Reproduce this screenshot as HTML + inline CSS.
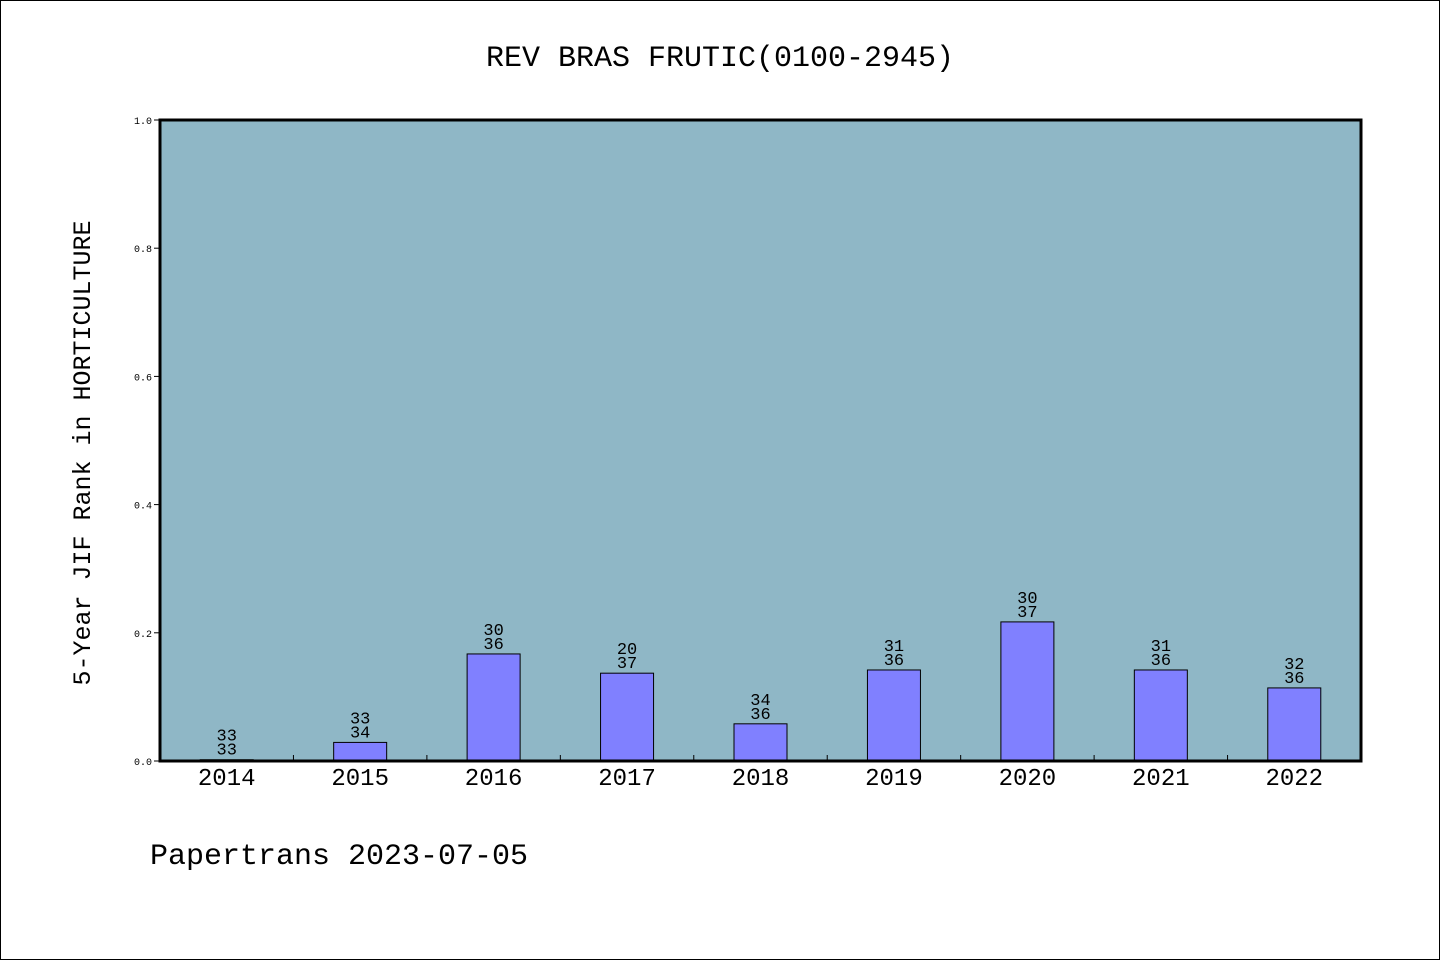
<!DOCTYPE html>
<html><head><meta charset="utf-8"><style>
html,body{margin:0;padding:0;background:#fff;}
body{width:1440px;height:960px;position:relative;overflow:hidden;}
svg text{font-family:"Liberation Mono","DejaVu Sans Mono",monospace;fill:#000;}
</style></head><body>
<svg id="chart" width="1440" height="960" xmlns="http://www.w3.org/2000/svg">
<rect x="0.5" y="0.5" width="1439" height="959" fill="#fff" stroke="#000" stroke-width="1"/>
<text x="720" y="66" font-size="30" text-anchor="middle">REV BRAS FRUTIC(0100-2945)</text>
<rect x="160" y="120" width="1201" height="641" fill="#8fb7c6"/>
<g id="yaxis"></g>
<g id="xaxis"></g>
<g id="bars"></g>
<rect x="160" y="120" width="1201" height="641" fill="none" stroke="#000" stroke-width="3"/>
<text transform="translate(90,453) rotate(-90)" font-size="25" text-anchor="middle">5-Year JIF Rank in HORTICULTURE</text>
<text x="150" y="864" font-size="30">Papertrans 2023-07-05</text>
</svg>
<script>
const categories = ["2014","2015","2016","2017","2018","2019","2020","2021","2022"];
const values = [0.002, 0.029, 0.167, 0.137, 0.058, 0.142, 0.217, 0.142, 0.114];
const ranks = ["33","33","30","20","34","31","30","31","32"];
const totals = ["33","34","36","37","36","36","37","36","36"];
const yTicks = [0, 0.2, 0.4, 0.6, 0.8, 1.0];
const yTickLabels = ["0.0","0.2","0.4","0.6","0.8","1.0"];

const NS = "http://www.w3.org/2000/svg";
const X0 = 160, X1 = 1361, Y0 = 761, Y1 = 120;
const step = (X1 - X0) / categories.length;
const xc = i => X0 + step * (i + 0.5);
const y = v => Y0 - (v / 1.0) * (Y0 - Y1);
function mk(tag, attrs, parent){const e=document.createElementNS(NS,tag);for(const k in attrs)e.setAttribute(k,attrs[k]);parent.appendChild(e);return e;}

const ya = document.getElementById("yaxis");
yTicks.forEach((t,i)=>{
  const l = mk("line",{x1:X0-6,x2:X0,y1:y(t),y2:y(t),stroke:"#000","stroke-width":1},ya);
  
  
  const tx = mk("text",{x:X0-8,y:y(t)+4,"font-size":10,"text-anchor":"end"},ya);
  tx.textContent = yTickLabels[i];
  
  
});

const xa = document.getElementById("xaxis");
for(let i=1;i<categories.length;i++){
  const l = mk("line",{x1:X0+step*i,x2:X0+step*i,y1:Y0,y2:Y0-6,stroke:"#000","stroke-width":1},xa);
  
  
}
categories.forEach((c,i)=>{
  const tx = mk("text",{x:xc(i),y:Y0+24,"font-size":24,"text-anchor":"middle"},xa);
  tx.textContent = c;
  
  
});

const bg = document.getElementById("bars");
const bw = 53;
values.forEach((v,i)=>{
  const top = y(v);
  const r = mk("rect",{x:xc(i)-bw/2,y:top,width:bw,height:Math.max(Y0-top,0.5),fill:"#8080ff",stroke:"#000","stroke-width":1},bg);
  
  
  const t1 = mk("text",{x:xc(i),y:top-19,"font-size":17,"text-anchor":"middle"},bg);
  t1.textContent = ranks[i];
  
  
  const t2 = mk("text",{x:xc(i),y:top-5,"font-size":17,"text-anchor":"middle"},bg);
  t2.textContent = totals[i];
  
  
});
</script>
</body></html>
